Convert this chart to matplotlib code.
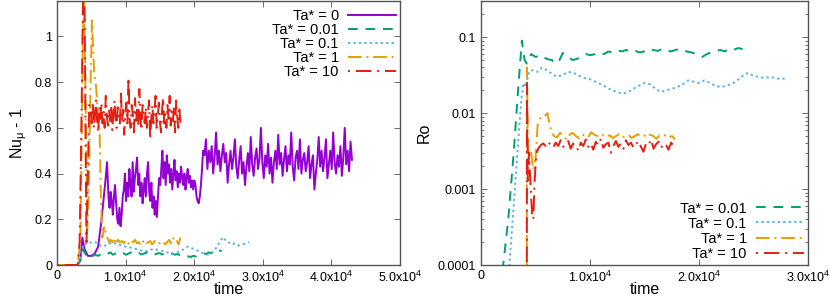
import numpy as np
import matplotlib
matplotlib.use("Agg")
import matplotlib.pyplot as plt

plt.rcParams['font.family'] = ['Liberation Sans', 'DejaVu Sans']
plt.rcParams['mathtext.default'] = 'regular'

# ---- left panel: Nu_mu - 1 vs time ----
labels = ["Ta* = 0", "Ta* = 0.01", "Ta* = 0.1", "Ta* = 1", "Ta* = 10"]
colors = ["#9400D3", "#009E73", "#56B4E9", "#E69F00", "#E51E10"]

nu0_start = [(0, 0), (3000, 0), (3400, 0.02), (3700, 0.12), (4000, 0.07), (4500, 0.04),
             (5000, 0.04), (5500, 0.05), (6000, 0.08), (6500, 0.2), (7000, 0.35), (7300, 0.45)]
nu0_mid = [0.3, 0.25, 0.32, 0.28, 0.22, 0.3, 0.35, 0.27, 0.2, 0.18, 0.25, 0.17, 0.22, 0.3, 0.33,
           0.4, 0.28, 0.36, 0.3, 0.42, 0.35, 0.3, 0.45, 0.32, 0.38, 0.42, 0.47, 0.35, 0.4, 0.3,
           0.36, 0.27, 0.33, 0.38, 0.3, 0.4, 0.45, 0.32, 0.28, 0.36, 0.25, 0.3, 0.22, 0.28, 0.21,
           0.3, 0.38, 0.35, 0.42, 0.5, 0.38, 0.45, 0.35, 0.48, 0.4, 0.44, 0.36, 0.42, 0.33, 0.4,
           0.46, 0.37, 0.41, 0.34, 0.4, 0.36, 0.43, 0.38, 0.35, 0.4, 0.33, 0.38, 0.42, 0.36, 0.39,
           0.34, 0.37, 0.33, 0.37, 0.35, 0.3, 0.28, 0.27, 0.3, 0.35, 0.42, 0.5]
nu0_late = [0.48, 0.55, 0.42, 0.5, 0.45, 0.52, 0.4, 0.47, 0.58, 0.44, 0.5, 0.41, 0.48, 0.53, 0.45,
            0.49, 0.36, 0.44, 0.5, 0.42, 0.47, 0.55, 0.43, 0.38, 0.46, 0.52, 0.4, 0.45, 0.35, 0.43,
            0.49, 0.41, 0.56, 0.44, 0.39, 0.47, 0.51, 0.42, 0.46, 0.6, 0.45, 0.38, 0.48, 0.43, 0.53,
            0.4, 0.47, 0.36, 0.45, 0.5, 0.42, 0.57, 0.44, 0.49, 0.39, 0.46, 0.52, 0.41, 0.48, 0.44,
            0.58, 0.43, 0.37, 0.47, 0.5, 0.42, 0.55, 0.4, 0.46, 0.49, 0.41, 0.45, 0.52, 0.38, 0.44,
            0.48, 0.33, 0.4, 0.46, 0.56, 0.43, 0.5, 0.41, 0.47, 0.55, 0.38, 0.44, 0.5, 0.42, 0.58,
            0.45, 0.4, 0.48, 0.43, 0.52, 0.39, 0.47, 0.6, 0.44, 0.5, 0.41, 0.54, 0.46]

nu001_start = [(0, 0), (3000, 0), (3400, 0.02), (3800, 0.07), (4100, 0.05), (4500, 0.03),
               (5000, 0.035), (5500, 0.045), (6000, 0.04), (6500, 0.05), (7000, 0.045)]
nu001_rest = [0.05, 0.055, 0.045, 0.05, 0.055, 0.048, 0.052, 0.045, 0.05, 0.055, 0.047, 0.05,
              0.053, 0.046, 0.05, 0.055, 0.048, 0.05, 0.045, 0.05, 0.052, 0.046, 0.05, 0.054,
              0.048, 0.05, 0.045, 0.048, 0.042, 0.045, 0.04, 0.038, 0.035, 0.04, 0.037, 0.042,
              0.045, 0.05, 0.048, 0.055, 0.052, 0.06, 0.055, 0.065, 0.06]

nu01_t = [0, 3000, 3400, 3800, 4200, 4600, 5000, 5500, 6000, 6500, 7000, 7500, 8000, 8500, 9000,
          9500, 10000, 11000, 12000, 13000, 14000, 15000, 16000, 17000, 18000, 19000, 20000,
          21000, 22000, 22500, 23000, 23500, 24200, 24500, 25000, 25500, 26000, 26500, 27000,
          27500, 28000]
nu01_v = [0, 0, 0.03, 0.085, 0.095, 0.09, 0.1, 0.1, 0.095, 0.08, 0.085, 0.09, 0.1, 0.095, 0.09,
          0.085, 0.08, 0.075, 0.065, 0.06, 0.07, 0.065, 0.055, 0.05, 0.06, 0.08, 0.07, 0.055,
          0.045, 0.05, 0.065, 0.09, 0.122, 0.11, 0.1, 0.09, 0.095, 0.085, 0.09, 0.095, 0.1]

nu1_start = [(0, 0), (3000, 0), (3400, 0.1), (3700, 0.8), (3900, 1.2), (4100, 0.9), (4400, 0.15),
             (4600, 0.3), (4900, 0.8), (5100, 1.07), (5400, 0.85), (5700, 0.78), (6000, 0.65),
             (6200, 0.6), (6400, 0.3), (6600, 0.12), (6900, 0.17), (7200, 0.13), (7600, 0.1)]
nu1_rest = [0.11, 0.1, 0.12, 0.09, 0.11, 0.1, 0.105, 0.095, 0.11, 0.1, 0.09, 0.105, 0.1, 0.11,
            0.095, 0.1, 0.085, 0.1, 0.11, 0.095, 0.1, 0.105, 0.09, 0.1, 0.11, 0.1, 0.095, 0.105,
            0.1, 0.09, 0.1, 0.11, 0.095, 0.12, 0.1, 0.105, 0.09, 0.12]

nu10_start = [(0, 0), (3000, 0), (3300, 0.1), (3600, 0.7), (3800, 1.2), (4000, 1.25),
              (4150, 0.6), (4300, 0.1), (4500, 0.4), (4700, 0.7)]
nu10_rest = [0.68, 0.62, 0.7, 0.6, 0.66, 0.72, 0.63, 0.58, 0.69, 0.64, 0.71, 0.62, 0.67, 0.6,
             0.74, 0.65, 0.61, 0.68, 0.63, 0.7, 0.59, 0.66, 0.72, 0.64, 0.6, 0.69, 0.65, 0.62,
             0.75, 0.63, 0.68, 0.57, 0.66, 0.71, 0.62, 0.82, 0.64, 0.6, 0.7, 0.66, 0.58, 0.73,
             0.63, 0.68, 0.61, 0.77, 0.64, 0.59, 0.7, 0.65, 0.62, 0.69, 0.6, 0.66, 0.72, 0.55,
             0.64, 0.7, 0.62, 0.67, 0.74, 0.6, 0.65, 0.71, 0.63, 0.58, 0.68, 0.73, 0.62, 0.66,
             0.6, 0.7, 0.64, 0.74, 0.61, 0.67, 0.63, 0.69, 0.58, 0.72, 0.65, 0.6, 0.68, 0.62]

# ---- right panel: Ro vs time ----
ro001_start = [(1800, 5e-5), (2500, 4e-4), (3000, 0.003), (3400, 0.02), (3750, 0.09),
               (4000, 0.05), (4200, 0.045), (4600, 0.06), (5000, 0.055), (5500, 0.058),
               (6000, 0.052), (6500, 0.05), (6800, 0.045), (7200, 0.05), (7500, 0.062)]
ro001_rest = [0.055, 0.05, 0.052, 0.055, 0.06, 0.058, 0.06, 0.062, 0.06, 0.065, 0.063, 0.067,
              0.065, 0.068, 0.064, 0.066, 0.063, 0.065, 0.07, 0.068, 0.066, 0.07, 0.067, 0.065,
              0.068, 0.07, 0.066, 0.064, 0.062, 0.058, 0.055, 0.06, 0.063, 0.066, 0.068, 0.065,
              0.07, 0.068, 0.072, 0.07]

ro01 = [(2300, 5e-5), (2600, 1e-4), (3000, 6e-4), (3400, 0.004), (3700, 0.015), (3900, 0.025),
        (4100, 0.022), (4400, 0.035), (4800, 0.037), (5200, 0.035), (5600, 0.04), (6000, 0.037),
        (6500, 0.033), (7000, 0.03), (7500, 0.032), (8000, 0.035), (8500, 0.034), (9000, 0.031),
        (9500, 0.029), (10000, 0.028), (10500, 0.026), (11000, 0.024), (11500, 0.022),
        (12000, 0.02), (12500, 0.019), (13000, 0.018), (13500, 0.019), (14000, 0.021),
        (14500, 0.023), (15000, 0.025), (15500, 0.024), (16000, 0.021), (16500, 0.019),
        (17000, 0.02), (17500, 0.021), (18000, 0.022), (18500, 0.024), (19000, 0.027),
        (19500, 0.026), (20000, 0.025), (20500, 0.027), (21000, 0.025), (21500, 0.023),
        (22000, 0.022), (22500, 0.023), (23000, 0.024), (23500, 0.027), (24000, 0.031),
        (24500, 0.034), (25000, 0.031), (25500, 0.03), (26000, 0.029), (26500, 0.03),
        (27000, 0.029), (27500, 0.028), (28000, 0.029)]

ro1_start = [(4200, 1e-5), (4210, 0.04), (4300, 0.004), (4400, 0.0025), (4600, 0.003),
             (4800, 0.0018), (5000, 0.0025), (5200, 0.007), (5500, 0.009), (5800, 0.009),
             (6100, 0.01), (6300, 0.007), (6500, 0.0055)]
ro1_rest = [0.005, 0.0048, 0.0055, 0.005, 0.0045, 0.0052, 0.0055, 0.005, 0.0047, 0.0053, 0.005,
            0.0048, 0.0056, 0.0052, 0.005, 0.0048, 0.0052, 0.0049, 0.0051, 0.0047, 0.005, 0.0053,
            0.0048, 0.005, 0.0052, 0.0047, 0.005, 0.0053, 0.0049, 0.0051, 0.0048, 0.0052, 0.005,
            0.0046, 0.0051, 0.0049, 0.0052, 0.0048, 0.005, 0.0045]

ro10_start = [(4200, 1e-5), (4220, 0.025), (4300, 0.0013), (4400, 0.003), (4500, 0.0015),
              (4600, 0.0008), (4700, 0.00045), (4800, 0.0004), (4900, 0.0011), (5000, 0.002),
              (5100, 0.003), (5300, 0.0035), (5500, 0.0038)]
ro10_rest = [0.004, 0.0037, 0.0042, 0.0038, 0.0035, 0.0041, 0.0037, 0.0044, 0.0036, 0.0039,
             0.0043, 0.0034, 0.004, 0.0038, 0.0032, 0.0041, 0.0037, 0.0045, 0.0036, 0.004, 0.0033,
             0.0042, 0.0038, 0.0046, 0.0035, 0.0039, 0.0041, 0.003, 0.0037, 0.0043, 0.0036, 0.004,
             0.0034, 0.0044, 0.0038, 0.0041, 0.0035, 0.0039, 0.0043, 0.0036, 0.0031, 0.004, 0.0038,
             0.0045, 0.0034, 0.0039, 0.0042, 0.0035, 0.004, 0.0038, 0.0033, 0.0041, 0.0037, 0.004]


def join(start, pieces):
    # start: list of (t, v); pieces: list of (t0, t1, values) sampled evenly
    t = [p[0] for p in start]
    v = [p[1] for p in start]
    for t0, t1, vals in pieces:
        t += list(np.linspace(t0, t1, len(vals)))
        v += list(vals)
    return np.array(t), np.array(v)


left_series = [
    join(nu0_start, [(7500, 21300, nu0_mid), (21500, 43000, nu0_late)]),
    join(nu001_start, [(7400, 24000, nu001_rest)]),
    (np.array(nu01_t), np.array(nu01_v)),
    join(nu1_start, [(7800, 18000, nu1_rest)]),
    join(nu10_start, [(4900, 18000, nu10_rest)]),
]
right_series = [
    join(ro001_start, [(8000, 24000, ro001_rest)]),
    join(ro01, []),
    join(ro1_start, [(6700, 17800, ro1_rest)]),
    join(ro10_start, [(5700, 17900, ro10_rest)]),
]

styles = ["-", (0, (5, 4)), (0, (1.2, 1.6)), (0, (7, 2.5, 1, 2.5)), (0, (1, 3, 8, 3))]

fig = plt.figure(figsize=(8.3, 2.98), dpi=100)
ax1 = fig.add_axes([57 / 830, 33 / 298, 343 / 830, 264 / 298])
ax2 = fig.add_axes([481 / 830, 33 / 298, 327 / 830, 264 / 298])

for (t, v), c, ls, lab in zip(left_series, colors, styles, labels):
    ax1.plot(t, v, color=c, ls=ls, lw=1.4, label=lab)

for (t, v), c, ls, lab in zip(right_series, colors[1:], styles[1:], labels[1:]):
    ax2.plot(t, v, color=c, ls=ls, lw=1.4, label=lab)

ax1.set_xlim(0, 5e4)
ax1.set_ylim(0, 1.155)
ax1.set_xticks([0, 1e4, 2e4, 3e4, 4e4, 5e4],
               ["0", "1.0x10$^4$", "2.0x10$^4$", "3.0x10$^4$", "4.0x10$^4$", "5.0x10$^4$"])
ax1.set_yticks([0, 0.2, 0.4, 0.6, 0.8, 1.0], ["0", "0.2", "0.4", "0.6", "0.8", "1"])
ax1.set_xlabel("time", fontsize=11.5, labelpad=-2)
ax1.set_ylabel("Nu$_\\mu$ - 1", fontsize=11.5, labelpad=4)

ax2.set_yscale("log")
ax2.set_xlim(0, 3e4)
ax2.set_ylim(1e-4, 0.3)
ax2.set_xticks([0, 1e4, 2e4, 3e4], ["0", "1.0x10$^4$", "2.0x10$^4$", "3.0x10$^4$"])
ax2.set_yticks([1e-4, 1e-3, 1e-2, 1e-1], ["0.0001", "0.001", "0.01", "0.1"])
ax2.set_xlabel("time", fontsize=11.5, labelpad=-2)
ax2.set_ylabel("Ro", fontsize=11.5, labelpad=4)

for ax in (ax1, ax2):
    ax.tick_params(which="both", direction="in", top=True, right=True, labelsize=9,
                   color="#555555")
    ax.tick_params(which="major", length=4, width=0.6)
    ax.tick_params(which="minor", length=2, width=0.6)
    for s in ax.spines.values():
        s.set_linewidth(1.0)
        s.set_color("#555555")

ax1.legend(loc="upper right", bbox_to_anchor=(1.0, 0.985), frameon=False, markerfirst=False,
           fontsize=10.5, labelspacing=0.0, handlelength=3.3, handletextpad=0.6,
           borderaxespad=0.1, borderpad=0.2)
ax2.legend(loc="lower right", frameon=False, markerfirst=False, fontsize=10.5,
           labelspacing=0.07, handlelength=3.3, handletextpad=0.6,
           borderaxespad=0.1, borderpad=0.2)

fig.savefig("out.png", dpi=100)
